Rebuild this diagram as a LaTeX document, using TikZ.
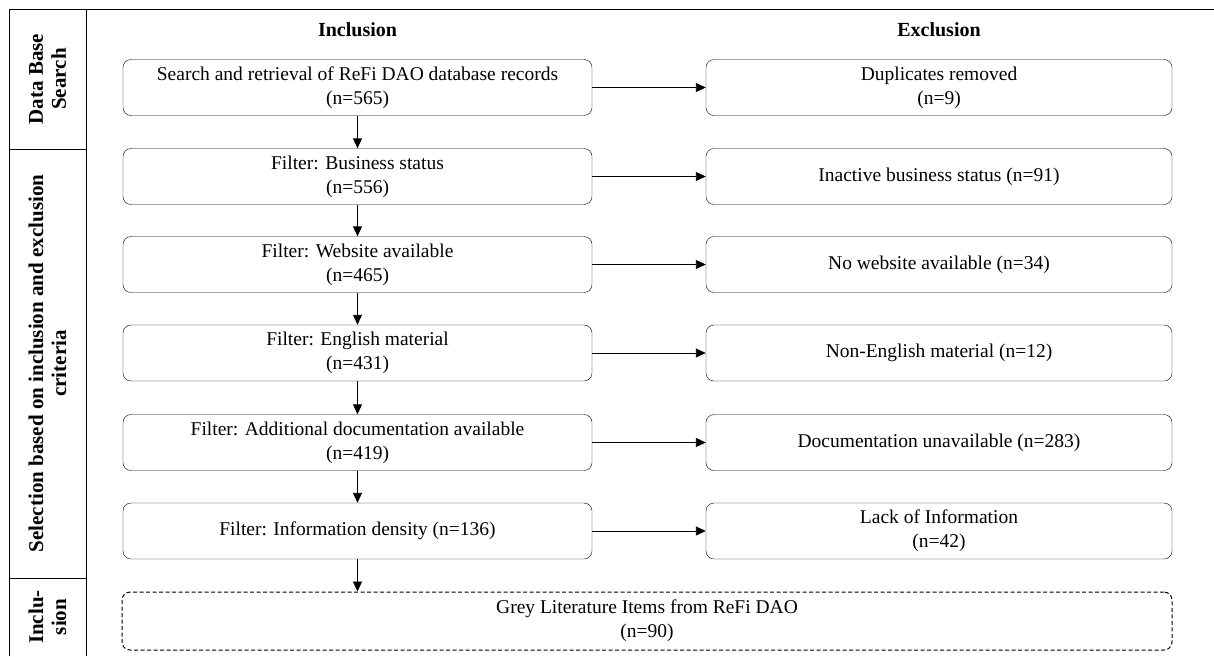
\documentclass[tikz,border=0pt]{standalone}
\usepackage{fontspec}
\setmainfont{Liberation Serif}
\usetikzlibrary{arrows.meta}
\begin{document}
\begin{tikzpicture}[x=1pt,y=-1pt,
  txt/.style={font=\fontsize{19.5}{24}\selectfont},
  lbl/.style={font=\fontsize{21}{23}\selectfont\bfseries, align=center, rotate=90},
  hdr/.style={font=\fontsize{20}{22}\selectfont\bfseries},
  inbox/.style={draw, rounded corners=8pt, minimum width=469pt, minimum height=56pt, align=center, inner sep=2pt, txt},
  exbox/.style={draw, rounded corners=8pt, minimum width=466pt, minimum height=56pt, align=center, inner sep=2pt, txt},
  endbox/.style={draw, line width=1pt, dash pattern=on 4pt off 2.5pt, rounded corners=8pt, minimum width=1050pt, minimum height=58pt, align=center, inner sep=2pt, txt},
  arr/.style={-{Triangle[length=10pt,width=9pt]}, line width=0.9pt},
  frame/.style={line width=0.9pt}]
\useasboundingbox (0,0) rectangle (1214,656);
% frame
\draw[frame] (9,656) -- (9,9) -- (1214,9);
\draw[frame] (86,9) -- (86,656);
\draw[frame] (9,149) -- (86,149);
\draw[frame] (9,578) -- (86,578);
% side labels
\node[lbl] (l1) at (47.5,79) {Data Base\\Search};
\node[lbl] (l2) at (47.5,363.5) {Selection based on inclusion and exclusion\\criteria};
\node[lbl] (l3) at (47.5,617) {Inclu-\\sion};
% headers
\node[hdr] (hin) at (357.5,30) {Inclusion};
\node[hdr] (hex) at (939,30) {Exclusion};
% inclusion boxes
\node[inbox] (i1) at (357.5,87.5) {Search and retrieval of ReFi DAO database records\\(n=565)};
\node[inbox] (i2) at (357.5,176.5) {Filter: Business status\\(n=556)};
\node[inbox] (i3) at (357.5,264.5) {Filter: Website available\\(n=465)};
\node[inbox] (i4) at (357.5,353) {Filter: English material\\(n=431)};
\node[inbox] (i5) at (357.5,442.5) {Filter: Additional documentation available\\(n=419)};
\node[inbox] (i6) at (357.5,531) {Filter: Information density (n=136)};
% exclusion boxes
\node[exbox] (e1) at (939,87.5) {Duplicates removed\\(n=9)};
\node[exbox] (e2) at (939,176.5) {Inactive business status (n=91)};
\node[exbox] (e3) at (939,264.5) {No website available (n=34)};
\node[exbox] (e4) at (939,353) {Non-English material (n=12)};
\node[exbox] (e5) at (939,442.5) {Documentation unavailable (n=283)};
\node[exbox] (e6) at (939,531) {Lack of Information\\(n=42)};
% final
\node[endbox] (f) at (647,621) {Grey Literature Items from ReFi DAO\\(n=90)};
% arrows
\draw[arr] (i1) -- (i2);
\draw[arr] (i2) -- (i3);
\draw[arr] (i3) -- (i4);
\draw[arr] (i4) -- (i5);
\draw[arr] (i5) -- (i6);
\draw[arr] (i6.south) -- (i6.south |- f.north);
\draw[arr] (i1) -- (e1);
\draw[arr] (i2) -- (e2);
\draw[arr] (i3) -- (e3);
\draw[arr] (i4) -- (e4);
\draw[arr] (i5) -- (e5);
\draw[arr] (i6) -- (e6);
\end{tikzpicture}
\end{document}
